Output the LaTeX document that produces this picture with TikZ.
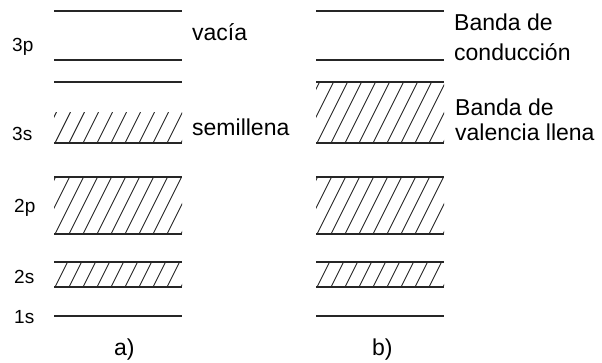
\documentclass[tikz,border=0pt]{standalone}
\usepackage{fontspec}
\setmainfont{Liberation Sans}
\tikzset{
  lvl/.style={line width=1.4pt, draw=black!85},
  hatchln/.style={line width=0.9pt, draw=black!85},
  big/.style={inner sep=0pt, anchor=base west, font=\fontsize{23}{27}\selectfont},
  small/.style={inner sep=0pt, anchor=base west, font=\fontsize{19}{22}\selectfont},
}
\newcommand\hband[4]{% x1, ytop, x2, ybottom
  \begin{scope}
    \clip (#1,#2) rectangle (#3,#4);
    \foreach \i in {-3,...,12} {
      \draw[hatchln] ({#1+1+\i*14},#4) -- ++({0.5*(#4-#2)},{-(#4-#2)});
    }
  \end{scope}}
\begin{document}
\begin{tikzpicture}[x=1pt,y=-1pt]
\useasboundingbox (0,0) rectangle (602,362);
% ---- panel a ----
\draw[lvl] (54,11) -- (182,11);
\draw[lvl] (54,60) -- (182,60);
\draw[lvl] (54,82) -- (182,82);
\hband{54}{112}{182}{143}
\draw[lvl] (54,143) -- (182,143);
\hband{54}{177}{182}{234}
\draw[lvl] (54,177) -- (182,177);
\draw[lvl] (54,234) -- (182,234);
\hband{54}{262}{182}{287}
\draw[lvl] (54,262) -- (182,262);
\draw[lvl] (54,287) -- (182,287);
\draw[lvl] (54,316) -- (182,316);
% ---- panel b ----
\draw[lvl] (316,11) -- (444,11);
\draw[lvl] (316,60) -- (444,60);
\hband{316}{82}{444}{143}
\draw[lvl] (316,82) -- (444,82);
\draw[lvl] (316,143) -- (444,143);
\hband{316}{177}{444}{234}
\draw[lvl] (316,177) -- (444,177);
\draw[lvl] (316,234) -- (444,234);
\hband{316}{262}{444}{287}
\draw[lvl] (316,262) -- (444,262);
\draw[lvl] (316,287) -- (444,287);
\draw[lvl] (316,316) -- (444,316);
% ---- labels ----
\node[small] (l3p) at (12,51) {3p};
\node[small] (l3s) at (12,140) {3s};
\node[small] (l2p) at (14,212) {2p};
\node[small] (l2s) at (14,283) {2s};
\node[small] (l1s) at (14,323) {1s};
\node[big] (vac) at (192,40) {vacía};
\node[big] (semi) at (192,135) {semillena};
\node[big] (bc1) at (454,30) {Banda de};
\node[big] (bc2) at (454,60) {conducción};
\node[big] (bv1) at (455,115) {Banda de};
\node[big] (bv2) at (455,140) {valencia llena};
\node[big] (pa) at (114,355) {a)};
\node[big] (pb) at (372,355) {b)};
\end{tikzpicture}
\end{document}
